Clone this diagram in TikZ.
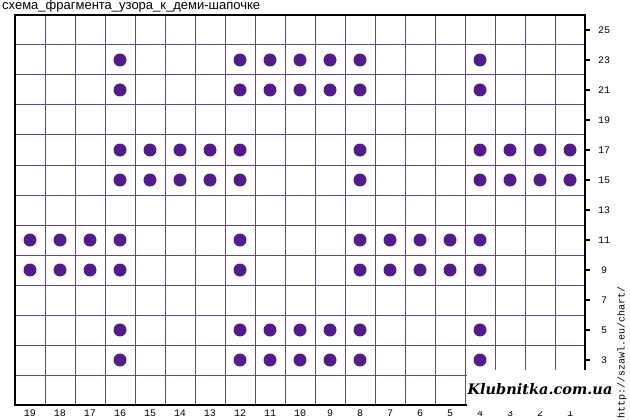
\documentclass[tikz,border=0pt]{standalone}
\usepackage{fontspec}
\setmainfont{Liberation Sans}
\setmonofont{Liberation Mono}
\newfontfamily\wmfont{DejaVu Serif}
\definecolor{gridc}{RGB}{92,72,140}
\definecolor{dotc}{RGB}{82,28,140}
\tikzset{
  gridline/.style={draw=gridc, line width=1pt},
  knit/.style={circle, fill=dotc, inner sep=0pt, minimum size=13pt},
  numlab/.style={font=\ttfamily\fontsize{10}{10}\selectfont, inner sep=0pt},
}
\begin{document}
\begin{tikzpicture}[x=1pt,y=-1pt]
\useasboundingbox (0,0) rectangle (630,420);
% title
\node[anchor=west, inner sep=0pt, font=\fontsize{13}{13}\selectfont] (title) at (2,6.5) {схема\_фрагмента\_узора\_к\_деми-шапочке};
% grid
\foreach \i in {1,...,18} \draw[gridline] (15+\i*30,15) -- (15+\i*30,405);
\foreach \j in {1,...,12} \draw[gridline] (15,15+\j*30) -- (585,15+\j*30);
\draw[black, line width=1.2pt] (15,15) rectangle (585,405);
% right ticks and labels
\foreach \r in {3,5,...,25} {
  \draw[black, line width=1.2pt] (585,30+25*15-\r*15) -- (590,30+25*15-\r*15);
  \node[numlab] (r\r) at (604,30+25*15-\r*15) {\r};
}
% bottom labels
\foreach \c in {1,...,19} \node[numlab] (c\c) at (30+19*30-\c*30,413.5) {\c};
% dots
\foreach \r/\cols in {23/{16,12,11,10,9,8,4}, 21/{16,12,11,10,9,8,4},
  17/{16,15,14,13,12,8,4,3,2,1}, 15/{16,15,14,13,12,8,4,3,2,1},
  11/{19,18,17,16,12,8,7,6,5,4}, 9/{19,18,17,16,12,8,7,6,5,4},
  5/{16,12,11,10,9,8,4}, 3/{16,12,11,10,9,8,4}} {
  \foreach \c in \cols \node[knit] (d\r-\c) at (30+19*30-\c*30, 30+25*15-\r*15) {};
}
% watermark
\fill[white] (467,370) rectangle (608,411);
\node[inner sep=0pt, font=\wmfont\bfseries\itshape\fontsize{14.5}{14.5}\selectfont] (wm) at (540,389) {Klubnitka.com.ua};
\node[rotate=90, inner sep=0pt, font=\ttfamily\fontsize{10}{10}\selectfont] (url) at (622,352) {http://szawl.eu/chart/};
\end{tikzpicture}
\end{document}
